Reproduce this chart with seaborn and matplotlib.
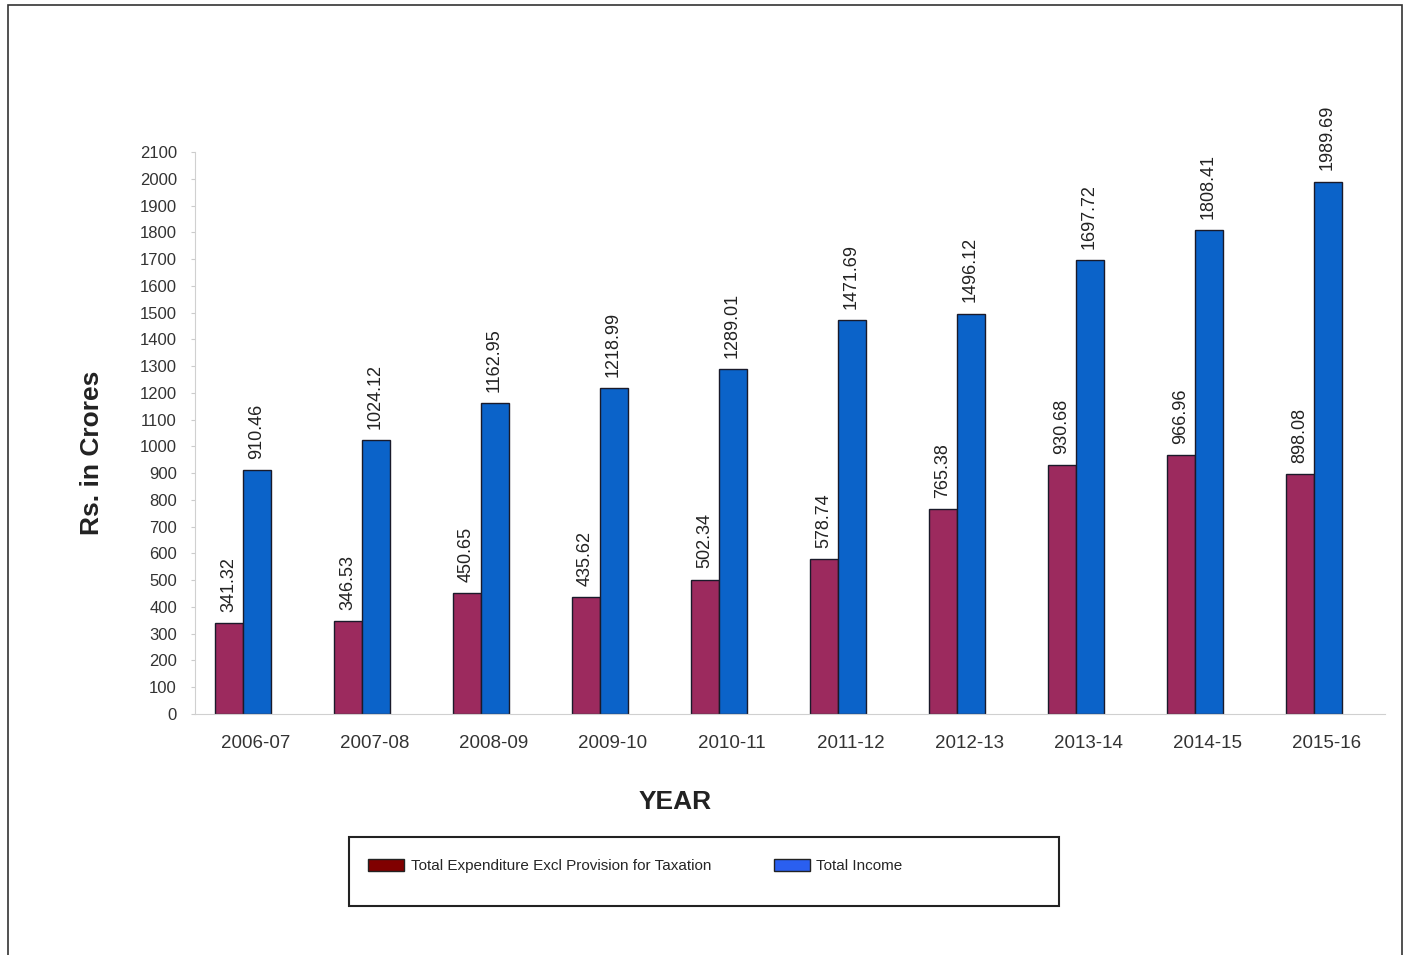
import matplotlib
matplotlib.use("Agg")
import matplotlib.pyplot as plt
import matplotlib.transforms as mtransforms
import seaborn as sns
import pandas as pd
from matplotlib.patches import Patch, Rectangle

years = ["2006-07", "2007-08", "2008-09", "2009-10", "2010-11",
         "2011-12", "2012-13", "2013-14", "2014-15", "2015-16"]
expenditure = [341.32, 346.53, 450.65, 435.62, 502.34,
               578.74, 765.38, 930.68, 966.96, 898.08]
income = [910.46, 1024.12, 1162.95, 1218.99, 1289.01,
          1471.69, 1496.12, 1697.72, 1808.41, 1989.69]
series_names = ["Total Expenditure Excl Provision for Taxation", "Total Income"]
y_ticks = list(range(0, 2101, 100))

df = pd.DataFrame({
    "year": years * 2,
    "value": expenditure + income,
    "series": [series_names[0]] * len(years) + [series_names[1]] * len(years),
})

sns.set_style("white")
plt.rcParams["font.family"] = ["Liberation Sans", "DejaVu Sans"]

fig = plt.figure(figsize=(14.06, 9.55), dpi=100)
ax = fig.add_axes([195 / 1406, 1 - 714 / 955, (1385 - 195) / 1406, (714 - 152) / 955])

bar_colors = ["#9C2A5E", "#0B63C9"]
sns.barplot(data=df, x="year", y="value", hue="series", palette=bar_colors,
            width=0.47, edgecolor="#1a1a2a", linewidth=1.0, ax=ax, legend=False,
            saturation=1)

for cont in ax.containers:
    ax.bar_label(cont, labels=[f"{v:.2f}" for v in cont.datavalues],
                 rotation=90, padding=8, fontsize=13, color="#222222")

ax.set_ylim(0, 2100)
ax.set_xlim(-0.4, 9.6)
ax.set_yticks(y_ticks)
ax.set_yticklabels([str(t) for t in y_ticks], fontsize=12, color="#333333")
ax.tick_params(axis="x", labelsize=13.5, colors="#333333", length=0, pad=15)
ax.tick_params(axis="y", length=3, color="#cccccc", pad=10, left=True)
shift = mtransforms.ScaledTranslation(13 / 100, 0, fig.dpi_scale_trans)
for lbl in ax.get_xticklabels():
    lbl.set_transform(lbl.get_transform() + shift)
ax.set_xlabel("")
ax.set_ylabel("")
for side in ["top", "right"]:
    ax.spines[side].set_visible(False)
ax.spines["left"].set_color("#d0d0d0")
ax.spines["bottom"].set_color("#d0d0d0")

fig.text(92 / 1406, 1 - 453 / 955, "Rs. in Crores", rotation=90, fontsize=19,
         fontweight="bold", ha="center", va="center", color="#222222")
fig.text(675 / 1406, 1 - 802 / 955, "YEAR", fontsize=19, fontweight="bold",
         ha="center", va="center", color="#222222")

# legend box
fig.patches.append(Rectangle((349 / 1406, 1 - 906 / 955), 710 / 1406, 69 / 955,
                             transform=fig.transFigure, fill=False,
                             edgecolor="#222222", linewidth=1.5))
handles = [Patch(facecolor="#800000", edgecolor="#222222", label=series_names[0]),
           Patch(facecolor="#2A5FF0", edgecolor="#222222", label=series_names[1])]
fig.legend(handles=handles, loc="center left", ncol=2, frameon=False,
           bbox_to_anchor=(354 / 1406, 1 - 866 / 955),
           prop={"size": 11},
           handlelength=2.4, handleheight=0.9, handletextpad=0.4,
           columnspacing=4.1)

# outer border
fig.patches.append(Rectangle((8 / 1406, -0.01), (1402 - 8) / 1406, 1 - 5 / 955 + 0.01,
                             transform=fig.transFigure, fill=False,
                             edgecolor="#333333", linewidth=1.2))

fig.savefig("out.png", dpi=100)
